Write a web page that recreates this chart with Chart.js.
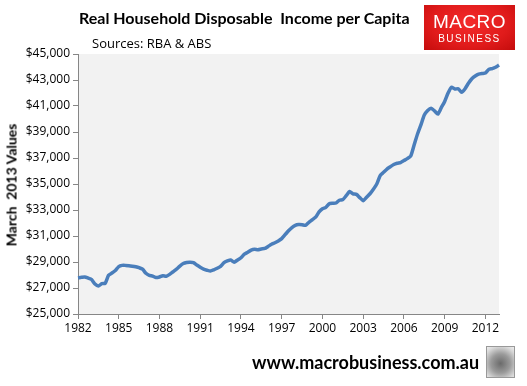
<!DOCTYPE html>
<html>
<head>
<meta charset="utf-8">
<script src="https://cdn.jsdelivr.net/npm/chart.js@4/dist/chart.umd.min.js"></script>
<style>
  html, body { margin: 0; padding: 0; background: #fff; }
  #wrap { position: relative; width: 527px; height: 386px; overflow: hidden; font-family: "Open Sans", sans-serif; }
  #chart { position: absolute; left: 0; top: 0; }
  .title { position: absolute; left: 79px; top: 8px; font-family: Lato, sans-serif; font-size: 16px; font-weight: bold; color: #000; white-space: nowrap; }
  .sources { position: absolute; left: 92px; top: 34px; font-size: 13px; color: #000; white-space: nowrap; }
  .logo { position: absolute; left: 424px; top: 5px; width: 91px; height: 45px;
          background: radial-gradient(ellipse at 50% 40%, #f42a2a 0%, #e01b1b 60%, #c40c0c 100%);
          color: #fff; text-align: center; font-family: "Liberation Sans", sans-serif; }
  .logo .m { font-size: 19px; line-height: 20px; margin-top: 7px; letter-spacing: 0.5px; }
  .logo .b { font-size: 10px; line-height: 12px; letter-spacing: 1.5px; margin-top: 1px; }
  .ytitle { position: absolute; left: 11px; top: 185px; transform: translate(-50%, -50%) rotate(-90deg);
            font-family: Lato, sans-serif; font-size: 14px; font-weight: bold; white-space: nowrap; color: #000; }
  .footer { position: absolute; left: 252px; top: 351px; font-family: Lato, sans-serif; font-size: 18px; font-weight: bold; color: #000; white-space: nowrap; }
  .wolf { position: absolute; left: 486px; top: 346px; width: 27px; height: 30px; border: 1px solid #999;
          background: radial-gradient(circle at 50% 55%, #6b6b6b 0%, #9a9a9a 45%, #d8d8d8 80%, #efefef 100%); }
</style>
</head>
<body>
<div id="wrap">
  <canvas id="chart" width="527" height="386"></canvas>
  <div class="title">Real Household Disposable&nbsp; Income per Capita</div>
  <div class="sources">Sources: RBA &amp; ABS</div>
  <div class="logo"><div class="m">MACRO</div><div class="b">BUSINESS</div></div>
  <div class="ytitle">March&nbsp; 2013 Values</div>
  <div class="footer">www.macrobusiness.com.au</div>
  <div class="wolf"></div>
</div>
<script>
// Quarterly data, March 1982 .. March 2013
const firstYear = 1982;
const quarters = 125;

const income = [
  27780, 27820, 27850, 27760, 27650, 27300, 27150, 27330, 27360, 27980,
  28150, 28350, 28650, 28740, 28740, 28720, 28680, 28630, 28560, 28450,
  28130, 27970, 27920, 27800, 27850, 27950, 27900, 28050, 28250, 28450,
  28690, 28880, 28960, 28980, 28950, 28770, 28600, 28450, 28370, 28310,
  28400, 28520, 28670, 28950, 29080, 29150, 28990, 29150, 29330, 29600,
  29750, 29920, 29980, 29940, 30000, 30040, 30200, 30360, 30480, 30620,
  30800, 31100, 31400, 31650, 31820, 31880, 31870, 31820, 32050, 32250,
  32450, 32850, 33100, 33200, 33480, 33520, 33540, 33750, 33800, 34100,
  34420, 34240, 34200, 33950, 33720, 33980, 34250, 34600, 35000, 35650,
  35900, 36150, 36330, 36500, 36600, 36650, 36800, 36950, 37150, 38000,
  38850, 39550, 40300, 40650, 40820, 40630, 40380, 40870, 41350, 42000,
  42450, 42300, 42330, 42050, 42330, 42750, 43100, 43310, 43450, 43500,
  43530, 43820, 43880, 43980, 44150
];

// one label per quarter; only the March quarter of every third year is shown
const labels = [];
for (let i = 0; i < quarters; i++) {
  labels.push(String(firstYear + Math.floor(i / 4)));
}

const yMin = 25000;
const yMax = 45000;
const yStep = 2000;

// light grey plot area like the spreadsheet
const plotBackground = {
  id: 'plotBackground',
  beforeDraw(chart) {
    const { ctx, chartArea } = chart;
    ctx.save();
    ctx.fillStyle = '#f2f2f2';
    ctx.fillRect(chartArea.left, chartArea.top, chartArea.right - chartArea.left, chartArea.bottom - chartArea.top);
    ctx.restore();
  }
};

const axisColor = '#868686';
const tickFont = { family: 'Open Sans', size: 12 };

new Chart(document.getElementById('chart'), {
  type: 'line',
  data: {
    labels: labels,
    datasets: [{
      data: income,
      borderColor: '#4a7ebb',
      borderWidth: 3.5,
      pointRadius: 0,
      tension: 0.2,
      fill: false
    }]
  },
  options: {
    responsive: false,
    animation: false,
    layout: { padding: { top: 54, right: 28, left: 0, bottom: 0 } },
    plugins: { legend: { display: false }, tooltip: { enabled: false } },
    scales: {
      x: {
        type: 'category',
        offset: false,
        border: { display: true, color: axisColor, width: 1 },
        grid: { display: true, drawOnChartArea: false, drawTicks: true, tickLength: 5, color: axisColor },
        ticks: {
          autoSkip: false,
          maxRotation: 0,
          color: '#000',
          font: tickFont,
          padding: 2,
          callback: (val, idx) => idx % 12 === 0 ? labels[idx] : null
        },
        afterFit: (scale) => { scale.height = 72; }
      },
      y: {
        min: yMin,
        max: yMax,
        border: { display: true, color: axisColor, width: 1 },
        grid: { display: true, drawOnChartArea: false, drawTicks: true, tickLength: 5, color: axisColor },
        ticks: {
          stepSize: yStep,
          color: '#000',
          font: tickFont,
          padding: 3,
          callback: (v) => '$' + v.toLocaleString('en-US')
        },
        afterFit: (scale) => { scale.width = 78; }
      }
    }
  },
  plugins: [plotBackground]
});
</script>
</body>
</html>
